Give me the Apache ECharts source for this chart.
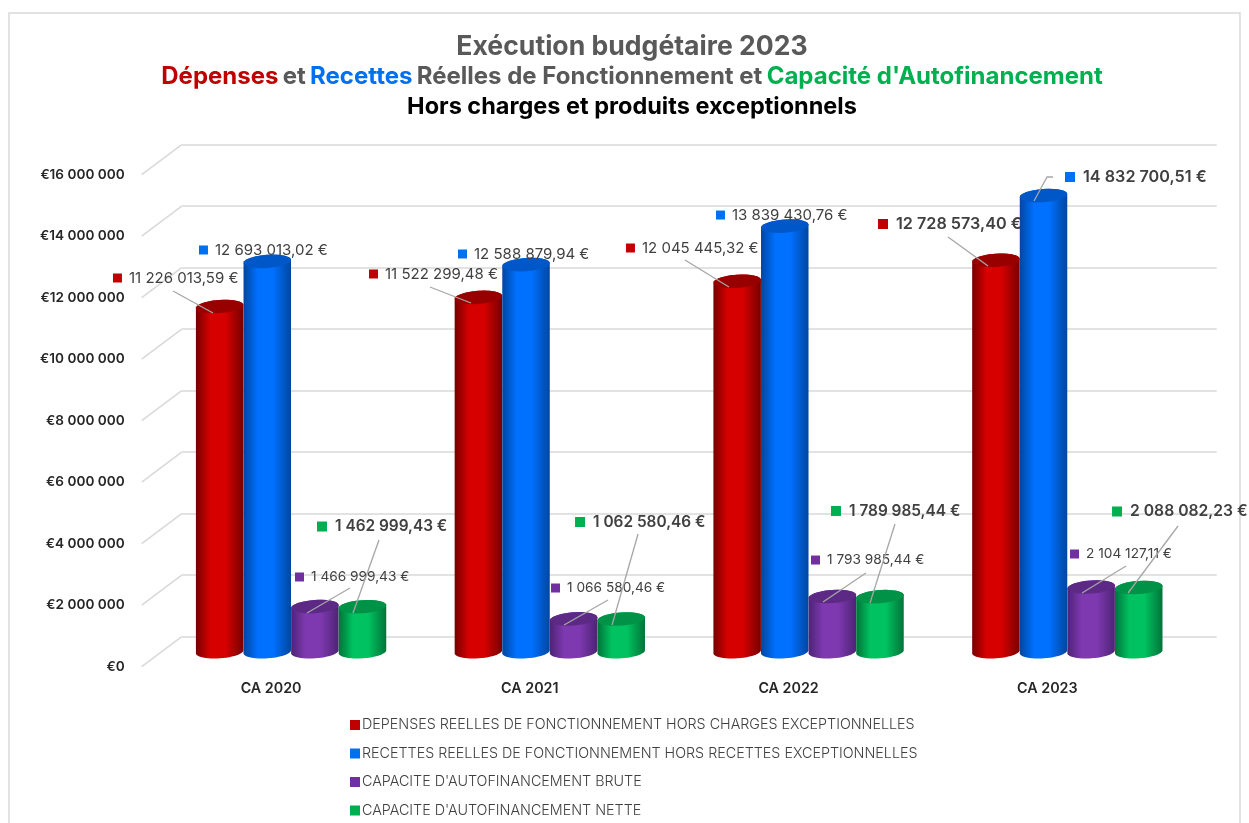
<!DOCTYPE html>
<html>
<head>
<meta charset="utf-8">
<title>Exécution budgétaire 2023</title>
<style>
	html, body { margin: 0; padding: 0; background: #fff; }
	#chart { width: 1249px; height: 823px; }
</style>
<script src="https://cdn.jsdelivr.net/npm/echarts@6/dist/echarts.min.js"></script>
</head>
<body>
<div id="chart"></div>
<script>
const categories = ['CA 2020', 'CA 2021', 'CA 2022', 'CA 2023']
const depenses = [11226013.59, 11522299.48, 12045445.32, 12728573.40]
const recettes = [12693013.02, 12588879.94, 13839430.76, 14832700.51]
const cafBrute = [1466999.43, 1066580.46, 1793985.44, 2104127.11]
const cafNette = [1462999.43, 1062580.46, 1789985.44, 2088082.23]
const valueTicks = [0, 2000000, 4000000, 6000000, 8000000, 10000000, 12000000, 14000000, 16000000]

const seriesNames = [
	'DEPENSES REELLES DE FONCTIONNEMENT HORS CHARGES EXCEPTIONNELLES',
	'RECETTES REELLES DE FONCTIONNEMENT HORS RECETTES EXCEPTIONNELLES',
	"CAPACITE D'AUTOFINANCEMENT BRUTE",
	"CAPACITE D'AUTOFINANCEMENT NETTE"
]
const seriesValues = [depenses, recettes, cafBrute, cafNette]

// colours: [edge, middle, top of the cylinder, marker]
const palette = [
	['#760000', '#d60000', '#980000', '#c00000'],
	['#00469f', '#0070ff', '#0058c8', '#0070f0'],
	['#4e2375', '#7e39b0', '#5c2a85', '#7030a0'],
	['#007439', '#00c260', '#009246', '#00b050']
]

// label layout, relative to the top of each cylinder: marker [dx, dy]
const markerOffsets = [
	[[-106.7, -28.5], [-109.4, -23.4], [-111.2, -33.3], [-117.9, -36.3]],
	[[-68.3, -11.4], [-68, -10.6], [-68.8, -11.1], [21.5, -18.6]],
	[[-19.9, -29.6], [-22.6, -30.9], [-21.4, -36.5], [-21.1, -33]],
	[[-45.5, -80.2], [-46.2, -97], [-49, -85.7], [-26.7, -76]]
]
// leader lines, same reference point
const leaderOffsets = [
	[[[-46.7, -15.5], [-6.7, 6.5]], [[-48.4, -10.4], [-7.4, 5.6]], [[-52.2, -21.3], [-8.2, 5.7]], [[-47.9, -23.3], [-7.9, 5.7]]],
	[null, null, null, [[9.5, -18.6], [3.5, -18.6], [-9.5, 5.4]]],
	[[[35.1, -18.6], [-7.9, 6.4]], [[34.4, -18.9], [-9.6, 6.1]], [[33.6, -23.5], [-9.4, 5.5]], [[34.9, -21], [-9.1, 6]]],
	[[[16.5, -66.7], [-9.5, 6.3]], [[16.8, -85], [-9.2, 6]], [[15, -72.7], [-10, 6.3]], [[39.3, -61.5], [-10.7, 5.5]]]
]
// these labels are drawn bolder, with a bigger marker
const strongLabels = [
	[false, false, false, true],
	[false, false, false, true],
	[false, false, false, false],
	[true, true, true, true]
]
const labelFontSizes = [
	[15, 15, 15, 16.2],
	[15, 15, 15, 16.2],
	[13.7, 13.7, 13.7, 13.7],
	[15.4, 15.4, 15.4, 15.7]
]

const fontName = 'Inter'
const barShare = 0.184
const ellipseRy = 6.6
const tilt = -4 * Math.PI / 180
const depthX = 40
const depthY = 30

function formatEuro(v) {
	const parts = v.toFixed(2).split('.')
	return parts[0].replace(/\B(?=(\d{3})+$)/g, ' ') + ',' + parts[1] + ' €'
}

function ellipsePoint(cx, cy, rx, t) {
	return [
		cx + rx * Math.cos(t) * Math.cos(tilt) - ellipseRy * Math.sin(t) * Math.sin(tilt),
		cy + rx * Math.cos(t) * Math.sin(tilt) + ellipseRy * Math.sin(t) * Math.cos(tilt)
	]
}

function halfEllipse(cx, cy, rx, from, to) {
	const pts = []
	for (let k = 0; k <= 24; k++) {
		pts.push(ellipsePoint(cx, cy, rx, from + (to - from) * k / 24))
	}
	return pts
}

function barCentre(api, seriesIdx, value) {
	const top = api.coord([api.value(0), value])
	const band = api.size([1, 0])[0]
	return { x: top[0] + (seriesIdx - 1.5) * band * barShare, y: top[1], w: band * barShare }
}

function renderCylinder(seriesIdx) {
	return function (params, api) {
		const top = barCentre(api, seriesIdx, api.value(1))
		const base = barCentre(api, seriesIdx, 0)
		const rx = top.w / 2
		const colors = palette[seriesIdx]
		const body = halfEllipse(base.x, base.y, rx, 0, Math.PI)
			.concat(halfEllipse(top.x, top.y, rx, Math.PI, 2 * Math.PI))
		return {
			type: 'group',
			children: [
				{
					type: 'polygon',
					shape: { points: body },
					style: {
						fill: new echarts.graphic.LinearGradient(0, 0, 1, 0, [
							{ offset: 0, color: colors[0] },
							{ offset: 0.3, color: colors[1] },
							{ offset: 0.62, color: colors[1] },
							{ offset: 1, color: colors[0] }
						])
					}
				},
				{
					type: 'polygon',
					shape: { points: halfEllipse(top.x, top.y, rx, 0, 2 * Math.PI) },
					style: { fill: colors[2] }
				}
			]
		}
	}
}

function renderLabel(seriesIdx) {
	return function (params, api) {
		const i = params.dataIndex
		const top = barCentre(api, seriesIdx, api.value(1))
		const marker = markerOffsets[seriesIdx][i]
		const leader = leaderOffsets[seriesIdx][i]
		const strong = strongLabels[seriesIdx][i]
		const size = strong ? 10 : 9
		const children = []
		if (leader) {
			children.push({
				type: 'polyline',
				shape: { points: leader.map(p => [top.x + p[0], top.y + p[1]]) },
				style: { fill: null, stroke: '#a6a6a6', lineWidth: 1.3 }
			})
		}
		children.push({
			type: 'rect',
			shape: { x: top.x + marker[0], y: top.y + marker[1] - size / 2, width: size, height: size },
			style: { fill: palette[seriesIdx][3] }
		})
		children.push({
			type: 'text',
			style: {
				x: top.x + marker[0] + size + (strong ? 8 : 7),
				y: top.y + marker[1],
				text: formatEuro(api.value(1)),
				fill: '#404040',
				font: (strong ? '600 ' : '400 ') + labelFontSizes[seriesIdx][i] + 'px ' + fontName,
				verticalAlign: 'middle'
			}
		})
		return { type: 'group', children: children }
	}
}

function renderDepthLine(params, api) {
	const back = api.coord([0, api.value(0)])
	const left = back[0] - api.size([1, 0])[0] / 2
	return {
		type: 'line',
		shape: { x1: left, y1: back[1], x2: left - depthX, y2: back[1] + depthY },
		style: { stroke: '#d9d9d9', lineWidth: 1.5 }
	}
}

const hiddenCategory = {
	type: 'category',
	data: categories,
	axisLine: { show: false },
	axisTick: { show: false },
	axisLabel: { show: false }
}
const hiddenValue = {
	type: 'value',
	min: 0,
	max: 16000000,
	interval: 2000000,
	axisLine: { show: false },
	axisTick: { show: false },
	axisLabel: { show: false },
	splitLine: { show: false }
}

const series = [{
	type: 'custom',
	name: 'depth',
	xAxisIndex: 0,
	yAxisIndex: 0,
	silent: true,
	clip: false,
	encode: { y: 0 },
	renderItem: renderDepthLine,
	data: valueTicks.map(v => [v])
}]
seriesNames.forEach((name, s) => {
	series.push({
		type: 'custom',
		name: name,
		xAxisIndex: 1,
		yAxisIndex: 1,
		clip: false,
		itemStyle: { color: palette[s][3] },
		encode: { x: 0, y: 1 },
		renderItem: renderCylinder(s),
		data: seriesValues[s].map((v, i) => [i, v])
	})
})
seriesNames.forEach((name, s) => {
	series.push({
		type: 'custom',
		name: name + ' labels',
		xAxisIndex: 1,
		yAxisIndex: 1,
		clip: false,
		z: 5,
		encode: { x: 0, y: 1 },
		renderItem: renderLabel(s),
		data: seriesValues[s].map((v, i) => [i, v])
	})
})

const chart = echarts.init(document.getElementById('chart'))
chart.setOption({
	animation: false,
	backgroundColor: '#fff',
	textStyle: { fontFamily: fontName },
	graphic: [{
		type: 'rect',
		silent: true,
		shape: { x: 9, y: 13, width: 1231, height: 830 },
		style: { fill: '#fff', stroke: '#d9d9d9', lineWidth: 1.5 },
		z: -10
	}],
	title: [
		{
			text: 'Exécution budgétaire 2023',
			left: 627,
			top: 28,
			textAlign: 'center',
			textStyle: { fontFamily: fontName, fontSize: 26.6, fontWeight: 700, color: '#595959' }
		},
		{
			text: "{r|Dépenses} {g|et} {b|Recettes} {g|Réelles de Fonctionnement et} {v|Capacité d'Autofinancement}",
			left: 627,
			top: 60,
			textAlign: 'center',
			textStyle: {
				rich: {
					r: { fontFamily: fontName, fontSize: 24, fontWeight: 700, color: '#c00000' },
					g: { fontFamily: fontName, fontSize: 24, fontWeight: 700, color: '#595959' },
					b: { fontFamily: fontName, fontSize: 24, fontWeight: 700, color: '#0070f0' },
					v: { fontFamily: fontName, fontSize: 24, fontWeight: 700, color: '#00b050' }
				}
			}
		},
		{
			text: 'Hors charges et produits exceptionnels',
			left: 627,
			top: 90,
			textAlign: 'center',
			textStyle: { fontFamily: fontName, fontSize: 23.5, fontWeight: 700, color: '#000' }
		}
	],
	legend: {
		data: seriesNames,
		orient: 'vertical',
		left: 345,
		top: 713,
		icon: 'rect',
		itemWidth: 10,
		itemHeight: 10,
		itemGap: 14.5,
		selectedMode: false,
		textStyle: { fontFamily: fontName, fontSize: 14.3, fontWeight: 300, color: '#404040', padding: [0, 0, 0, -3] }
	},
	grid: [
		{ left: 181.7, top: 144.7, width: 1035, height: 492 },
		{ left: 161.7, top: 159.7, width: 1035, height: 492 },
		{ left: 141.7, top: 174.7, width: 1035, height: 492 }
	],
	xAxis: [
		Object.assign({ gridIndex: 0 }, hiddenCategory),
		Object.assign({ gridIndex: 1 }, hiddenCategory),
		{
			gridIndex: 2,
			type: 'category',
			data: categories,
			axisLine: { show: false },
			axisTick: { show: false },
			axisLabel: { color: '#262626', fontFamily: fontName, fontSize: 14.3, fontWeight: 600, margin: 15 }
		}
	],
	yAxis: [
		Object.assign({}, hiddenValue, {
			gridIndex: 0,
			splitLine: { show: true, lineStyle: { color: '#d9d9d9', width: 1.5 } }
		}),
		Object.assign({ gridIndex: 1 }, hiddenValue),
		{
			gridIndex: 2,
			type: 'value',
			min: 0,
			max: 16000000,
			interval: 2000000,
			axisLine: { show: false },
			axisTick: { show: false },
			splitLine: { show: false },
			axisLabel: {
				color: '#262626',
				fontFamily: fontName,
				fontSize: 13.6,
				fontWeight: 600,
				margin: 17,
				padding: [4, 0, 0, 0],
				formatter: v => '€' + String(v).replace(/\B(?=(\d{3})+$)/g, ' ')
			}
		}
	],
	series: series
})
</script>
</body>
</html>
